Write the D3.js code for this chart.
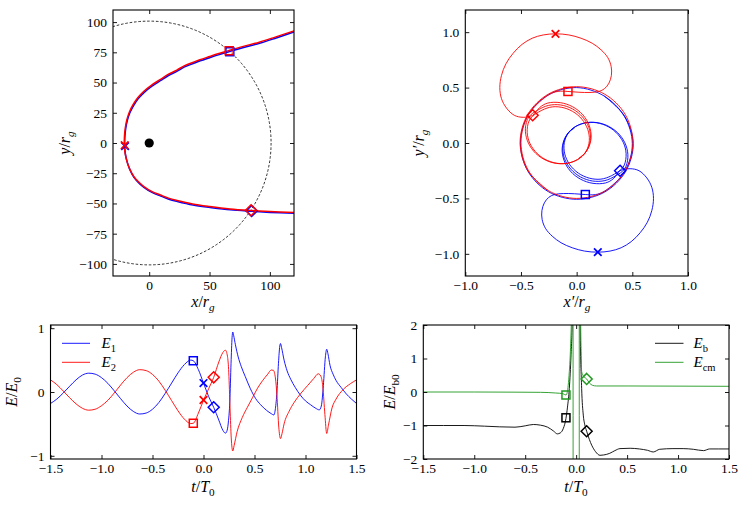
<!DOCTYPE html>
<html><head><meta charset="utf-8">
<script src="https://cdn.jsdelivr.net/npm/d3@7"></script>
<style>body{margin:0;background:#fff} svg text{font-family:"Liberation Serif","Times New Roman",serif;fill:#000}</style>
</head><body><svg id="c" width="748" height="505"></svg>
<script>
// ---------- DATA ----------
// Top-left: trajectories in x/r_g, y/r_g
const tlRed = [[120,92.7],[105,87.8],[91.2,83.4],[78,79.9],[66.1,76.5],[57,73.8],[50.2,71.6],[42,68.9],[36.6,66.8],[29,63.8],[22.9,60.3],[15,56.3],[9.3,52.6],[2,47.9],[-4.4,42.8],[-9.5,37.5],[-13.5,31.5],[-16.4,25.7],[-18.5,19.3],[-19.8,12.5],[-20.5,5.5],[-20.6,-1.5],[-20.2,-7],[-18.9,-13.5],[-16.6,-20.5],[-12.8,-27.7],[-8.5,-32.5],[-4.4,-36],[2,-40],[9.3,-43],[16,-45.6],[23,-47.5],[36,-50.4],[50.2,-52.5],[67,-54.5],[84.4,-55.8],[100,-56.7],[120,-57.5]];
const tlBlue = [[120,91.8],[105.3,86.9],[91.5,82.5],[78.3,79],[66.4,75.6],[57.3,72.9],[50.5,70.7],[42.3,68],[36.9,65.9],[29.3,62.9],[23.2,59.4],[15.3,55.4],[9.6,51.7],[2.3,47],[-4.1,41.9],[-9.2,36.6],[-13.2,30.6],[-16.1,24.8],[-18.2,18.4],[-19.5,11.6],[-20.2,4.6],[-20.3,-2.4],[-19.9,-7.9],[-18.6,-14.4],[-16.3,-21.4],[-12.5,-28.6],[-8.2,-33.4],[-4.1,-36.9],[2.3,-40.9],[9.6,-43.9],[16.3,-46.5],[23.3,-48.4],[36.3,-51.3],[50.5,-53.3],[67.3,-55.3],[84.7,-56.5],[100.3,-57.4],[120,-58.2]];
const tlCircleRadius = 101;
const tlMarkRed = {x:[-20.3,-1.8], sq:[66.3,76.3], di:[84.4,-55.6]};
const tlMarkBlue = {x:[-20,-2.6], sq:[66.8,75.5], di:[84.9,-56.2]};

// Top-right: trajectories in x'/r_g, y'/r_g
const trRed = [[-0.2525,-0.432],[-0.439,-0.2485],[-0.508,0.005],[-0.439,0.2585],[-0.2525,0.442],[0,0.508],[0.2515,0.4406],[0.4365,0.257],[0.505,0.005],[0.438,-0.248],[0.2535,-0.434],[0,-0.5],[-0.252,-0.4315],[-0.4347,-0.246],[-0.5,0.005],[-0.433,0.255],[-0.249,0.436],[-0.168,0.4656],
[-0.078,0.465],[0.02,0.458],[0.12,0.456],[0.2,0.465],[0.25,0.49],[0.29,0.54],[0.312,0.61],[0.31,0.69],[0.28,0.77],[0.22,0.84],[0.14,0.9],[0.04,0.945],[-0.07,0.975],[-0.19,0.985],[-0.3,0.975],[-0.4,0.945],[-0.49,0.89],[-0.57,0.81],[-0.635,0.715],[-0.675,0.61],[-0.69,0.5],[-0.675,0.4],[-0.63,0.315],[-0.56,0.25],[-0.48,0.232],[-0.395,0.25],
[-0.33,0.322],[-0.261,0.36],[-0.147,0.364],[-0.036,0.327],[0.056,0.254],[0.114,0.155],[0.13,0.047],[0.1,-0.055],[0.031,-0.134],[-0.069,-0.18],[-0.183,-0.184],[-0.294,-0.147],[-0.386,-0.074],[-0.444,0.025],[-0.46,0.133],[-0.43,0.235],
[-0.35,0.296],[-0.254,0.339],[-0.144,0.343],[-0.036,0.307],[0.052,0.236],[0.109,0.141],[0.124,0.038],[0.096,-0.06],[0.03,-0.136],[-0.066,-0.179],[-0.176,-0.183],[-0.284,-0.147],[-0.372,-0.076],[-0.429,0.019],[-0.444,0.123],[-0.416,0.22],
[-0.313,0.295],[-0.218,0.326],[-0.113,0.317],[-0.014,0.271],[0.063,0.194],[0.107,0.098],[0.111,-0.002],[0.074,-0.091],[0.02,-0.135]];
const trBlue = [[0.2475,0.424],[0.43,0.2435],[0.508,-0.005],[0.439,-0.2585],[0.2525,-0.442],[0,-0.508],[-0.2515,-0.4406],[-0.4365,-0.257],[-0.505,-0.005],[-0.438,0.248],[-0.2535,0.434],[0,0.5],[0.247,0.424],[0.427,0.243],[0.5,-0.005],[0.433,-0.255],[0.249,-0.436],[0.168,-0.4656],
[0.078,-0.465],[-0.02,-0.458],[-0.12,-0.456],[-0.2,-0.465],[-0.25,-0.49],[-0.29,-0.54],[-0.312,-0.61],[-0.31,-0.69],[-0.28,-0.77],[-0.22,-0.84],[-0.14,-0.9],[-0.04,-0.945],[0.07,-0.975],[0.19,-0.985],[0.3,-0.975],[0.4,-0.945],[0.49,-0.89],[0.57,-0.81],[0.635,-0.715],[0.675,-0.61],[0.69,-0.5],[0.675,-0.4],[0.63,-0.315],[0.56,-0.25],[0.48,-0.232],[0.39,-0.25],
[0.33,-0.322],[0.261,-0.36],[0.147,-0.364],[0.036,-0.327],[-0.056,-0.254],[-0.114,-0.155],[-0.13,-0.047],[-0.1,0.055],[-0.031,0.134],[0.069,0.18],[0.183,0.184],[0.294,0.147],[0.386,0.074],[0.444,-0.025],[0.46,-0.133],[0.43,-0.235],
[0.35,-0.296],[0.254,-0.339],[0.144,-0.343],[0.036,-0.307],[-0.052,-0.236],[-0.109,-0.141],[-0.124,-0.038],[-0.096,0.06],[-0.03,0.136],[0.066,0.179],[0.176,0.183],[0.284,0.147],[0.372,0.076],[0.429,-0.019],[0.444,-0.123],[0.416,-0.22],
[0.313,-0.295],[0.218,-0.326],[0.113,-0.317],[0.014,-0.271],[-0.063,-0.194],[-0.107,-0.098],[-0.111,0.002],[-0.074,0.091],[-0.02,0.135]];
const trMarkRed = {x:[-0.19,0.985], sq:[-0.078,0.465], di:[-0.395,0.25]};
const trMarkBlue = {x:[0.19,-0.985], sq:[0.078,-0.465], di:[0.39,-0.25]};

// Bottom-left: E1, E2 vs t/T0
const e1 = [[-1.5,-0.18],[-1.4375,-0.11],[-1.375,-0.015],[-1.3125,0.09],[-1.25,0.19],[-1.1875,0.265],[-1.125,0.295],[-1.0625,0.28],[-1.0,0.225],[-0.9375,0.135],[-0.875,0.018],[-0.8125,-0.105],[-0.75,-0.22],[-0.6875,-0.305],[-0.625,-0.345],[-0.5625,-0.33],[-0.5,-0.27],[-0.4375,-0.165],[-0.375,-0.02],[-0.3125,0.14],[-0.25,0.3],[-0.1875,0.43],[-0.125,0.5],[-0.1,0.49],[-0.05,0.35],[0.0,0.14],[0.05,-0.07],[0.1,-0.24],[0.15,-0.44],[0.19,-0.6],[0.215,-0.645],[0.232,-0.6],[0.245,-0.45],[0.258,-0.15],[0.27,0.45],[0.28,0.85],[0.287,0.94],[0.295,0.89],[0.313,0.74],[0.34,0.55],[0.37,0.4],[0.41,0.24],[0.46,0.05],[0.51,-0.1],[0.56,-0.2],[0.62,-0.29],[0.665,-0.34],[0.69,-0.36],[0.705,-0.26],[0.72,0.0],[0.735,0.45],[0.748,0.72],[0.755,0.76],[0.765,0.7],[0.79,0.5],[0.82,0.33],[0.855,0.2],[0.9,0.07],[0.95,-0.05],[1.0,-0.14],[1.05,-0.2],[1.1,-0.255],[1.135,-0.28],[1.155,-0.22],[1.175,0.1],[1.195,0.55],[1.208,0.67],[1.22,0.6],[1.24,0.42],[1.27,0.28],[1.3,0.18],[1.35,0.07],[1.4,-0.03],[1.45,-0.11],[1.5,-0.18]];
const e2 = [[-1.5,0.19],[-1.4375,0.115],[-1.375,0.015],[-1.3125,-0.09],[-1.25,-0.185],[-1.1875,-0.255],[-1.125,-0.285],[-1.0625,-0.27],[-1.0,-0.215],[-0.9375,-0.13],[-0.875,-0.015],[-0.8125,0.11],[-0.75,0.225],[-0.6875,0.31],[-0.625,0.35],[-0.5625,0.335],[-0.5,0.275],[-0.4375,0.17],[-0.375,0.025],[-0.3125,-0.135],[-0.25,-0.295],[-0.1875,-0.425],[-0.125,-0.495],[-0.1,-0.49],[-0.05,-0.33],[0.0,-0.13],[0.05,0.05],[0.1,0.23],[0.15,0.47],[0.19,0.62],[0.215,0.655],[0.235,0.56],[0.248,0.3],[0.26,-0.25],[0.272,-0.72],[0.287,-0.925],[0.3,-0.84],[0.33,-0.62],[0.38,-0.4],[0.43,-0.24],[0.48,-0.09],[0.53,0.06],[0.58,0.18],[0.63,0.28],[0.665,0.345],[0.685,0.34],[0.705,0.22],[0.72,-0.05],[0.738,-0.55],[0.755,-0.73],[0.77,-0.65],[0.79,-0.5],[0.84,-0.3],[0.89,-0.16],[0.95,-0.03],[1.02,0.1],[1.08,0.21],[1.125,0.285],[1.15,0.25],[1.17,0.08],[1.19,-0.35],[1.208,-0.65],[1.225,-0.52],[1.26,-0.25],[1.3,-0.11],[1.37,0.04],[1.44,0.13],[1.5,0.19]];
const blMarkE1 = {sq:[-0.1,0.49], x:[0.0,0.14], di:[0.1,-0.24]};
const blMarkE2 = {sq:[-0.1,-0.49], x:[0.0,-0.125], di:[0.1,0.23]};

// Bottom-right: Eb, Ecm vs t/T0
const eb = [[-1.5,-1.0],[-1.3,-1.0],[-1.1,-1.0],[-0.9,-1.02],[-0.75,-1.04],[-0.6,-1.05],[-0.5,-1.01],[-0.42,-0.97],[-0.35,-0.99],[-0.28,-1.05],[-0.22,-1.17],[-0.185,-1.25],[-0.155,-1.22],[-0.125,-1.08],[-0.1,-0.79],[-0.085,-0.45],[-0.067,0.11],[-0.05,1.11],[-0.038,2.2],[-0.03,6],[0.03,6],[0.038,2.2],[0.054,0.11],[0.07,-0.69],[0.085,-0.98],[0.103,-1.17],[0.13,-1.42],[0.153,-1.59],[0.19,-1.78],[0.234,-1.89],[0.27,-1.88],[0.33,-1.83],[0.38,-1.75],[0.43,-1.69],[0.53,-1.68],[0.62,-1.7],[0.7,-1.74],[0.757,-1.79],[0.82,-1.71],[0.95,-1.69],[1.05,-1.69],[1.15,-1.71],[1.25,-1.75],[1.31,-1.7],[1.4,-1.7],[1.5,-1.7]];
const ecm = [[-1.5,0.0],[-1.0,0.0],[-0.6,-0.005],[-0.35,-0.01],[-0.2,-0.03],[-0.13,-0.05],[-0.1,-0.09],[-0.088,-0.02],[-0.078,0.2],[-0.067,0.61],[-0.058,1.1],[-0.052,1.6],[-0.046,2.3],[-0.032,30],[-0.028,-30],[0.029,-30],[0.032,30],[0.044,2.3],[0.049,1.2],[0.054,0.61],[0.07,0.48],[0.103,0.39],[0.13,0.27],[0.16,0.2],[0.2,0.18],[0.5,0.18],[1.0,0.175],[1.5,0.17]];
const brMarkEb = {sq:[-0.1,-0.77], di:[0.103,-1.17]};
const brMarkEcm = {sq:[-0.1,-0.09], di:[0.103,0.39]};

// tick values
const tlXTicks = [0,50,100], tlYTicks = [-100,-75,-50,-25,0,25,50,75,100];
const trTicks = [-1,-0.5,0,0.5,1];
const tTicks = [-1.5,-1,-0.5,0,0.5,1,1.5];
const blYTicks = [-1,0,1], brYTicks = [-2,-1,0,1,2];

// ---------- DRAW ----------
const FONT = '"Liberation Serif","Times New Roman",serif';
const RED = "#ff0000", BLUE = "#0000ff", GREEN = "#1f991f", BLACK = "#000";
const TICKFS = 13.5, TITLEFS = 16, LEGFS = 15;
const svg = d3.select("#c");
svg.append("rect").attr("width",748).attr("height",505).attr("fill","#fff");
const minus = f => d => f(d).replace("-","\u2212");

function panel(id, L, R, T, B, xd, yd) {
  const x = d3.scaleLinear().domain(xd).range([L,R]);
  const y = d3.scaleLinear().domain(yd).range([B,T]);
  svg.append("clipPath").attr("id",id).append("rect").attr("x",L).attr("y",T).attr("width",R-L).attr("height",B-T);
  const g = svg.append("g");
  const plot = g.append("g").attr("clip-path",`url(#${id})`);
  return {x,y,g,plot,L,R,T,B};
}
function axes(p, xt, yt, xf, yf) {
  const ts = 4;
  const st = a => a.attr("font-family",FONT).attr("font-size",TICKFS)
     .call(s=>s.select(".domain").remove())
     .call(s=>s.selectAll("line").attr("stroke","#000").attr("stroke-width",0.9));
  p.g.append("g").attr("transform",`translate(0,${p.B})`).call(d3.axisBottom(p.x).tickValues(xt).tickSize(-ts).tickPadding(4).tickFormat(xf)).call(st);
  p.g.append("g").attr("transform",`translate(0,${p.T})`).call(d3.axisTop(p.x).tickValues(xt).tickSize(-ts).tickFormat(()=>"")).call(st);
  p.g.append("g").attr("transform",`translate(${p.L},0)`).call(d3.axisLeft(p.y).tickValues(yt).tickSize(-ts).tickPadding(6).tickFormat(yf)).call(st);
  p.g.append("g").attr("transform",`translate(${p.R},0)`).call(d3.axisRight(p.y).tickValues(yt).tickSize(-ts).tickFormat(()=>"")).call(st);
  p.g.append("rect").attr("x",p.L).attr("y",p.T).attr("width",p.R-p.L).attr("height",p.B-p.T)
    .attr("fill","none").attr("stroke","#000").attr("stroke-width",1.1);
}
function line(p, data, color, w, curve) {
  const gen = d3.line().x(d=>p.x(d[0])).y(d=>p.y(d[1])).curve(curve);
  p.plot.append("path").attr("d",gen(data)).attr("fill","none").attr("stroke",color).attr("stroke-width",w).attr("stroke-linejoin","round");
}
function marker(p, type, pt, color) {
  const cx = p.x(pt[0]), cy = p.y(pt[1]);
  const m = p.g.append("g").attr("transform",`translate(${cx},${cy})`).attr("fill","none").attr("stroke",color).attr("stroke-width",1.5);
  if (type==="sq") m.append("rect").attr("x",-4).attr("y",-4).attr("width",8).attr("height",8);
  else if (type==="di") m.append("path").attr("d","M0,-5.5L5.5,0L0,5.5L-5.5,0Z");
  else { m.append("path").attr("d","M-3.8,-3.8L3.8,3.8M-3.8,3.8L3.8,-3.8").attr("stroke-width",1.7); }
}
function label(x, y, rot, parts, size, anchor) {
  const t = svg.append("text").attr("font-size",size).attr("text-anchor",anchor||"middle");
  if (rot) t.attr("transform",`translate(${x},${y}) rotate(-90)`); else t.attr("x",x).attr("y",y);
  let sub = false; const sh = size*0.24;
  parts.forEach(pp => {
    const s = t.append("tspan").text(pp[0]);
    if (pp[1].includes("i")) s.attr("font-style","italic");
    const isSub = pp[1].includes("s");
    if (isSub) s.attr("font-size",size*0.7);
    if (isSub && !sub) s.attr("dy",sh);
    if (!isSub && sub) s.attr("dy",-sh);
    sub = isSub;
  });
}

// ---- Top-left ----
const tl = panel("cTL",113,294,10,276,[-30,120],[-110,110]);
tl.plot.append("circle").attr("cx",tl.x(0)).attr("cy",tl.y(0)).attr("r",tl.x(tlCircleRadius)-tl.x(0))
  .attr("fill","none").attr("stroke","#000").attr("stroke-width",0.8).attr("stroke-dasharray","2.6,1.8");
tl.plot.append("circle").attr("cx",tl.x(0)).attr("cy",tl.y(0)).attr("r",4.6).attr("fill","#000");
line(tl, tlBlue, BLUE, 1.5, d3.curveCatmullRom);
line(tl, tlRed, RED, 1.5, d3.curveCatmullRom);
axes(tl, tlXTicks, tlYTicks, d3.format("d"), minus(d3.format("d")));
["sq","di","x"].forEach(k=>marker(tl,k,tlMarkBlue[k],BLUE));
["sq","di","x"].forEach(k=>marker(tl,k,tlMarkRed[k],RED));
label(203,307,false,[["x","i"],["/",""],["r","i"],["g","is"]],TITLEFS);
label(70,143,true,[["y","i"],["/",""],["r","i"],["g","is"]],TITLEFS);

// ---- Top-right ----
const tr = panel("cTR",465.3,688,10,276,[-1,1],[-1.2,1.2]);
line(tr, trBlue, BLUE, 0.9, d3.curveCatmullRom);
line(tr, trRed, RED, 0.9, d3.curveCatmullRom);
axes(tr, trTicks, trTicks, minus(d3.format(".1f")), minus(d3.format(".1f")));
["sq","di","x"].forEach(k=>marker(tr,k,trMarkBlue[k],BLUE));
["sq","di","x"].forEach(k=>marker(tr,k,trMarkRed[k],RED));
label(577,307,false,[["x\u2032","i"],["/",""],["r","i"],["g","is"]],TITLEFS);
label(424,143,true,[["y\u2032","i"],["/",""],["r","i"],["g","is"]],TITLEFS);

// ---- Bottom-left ----
const bl = panel("cBL",50.5,356.5,325,459,[-1.5,1.5],[-1.05,1.05]);
line(bl, e1, BLUE, 0.9, d3.curveMonotoneX);
line(bl, e2, RED, 0.9, d3.curveMonotoneX);
axes(bl, tTicks, blYTicks, minus(d3.format(".1f")), minus(d3.format("d")));
["sq","x","di"].forEach(k=>marker(bl,k,blMarkE1[k],BLUE));
["sq","x","di"].forEach(k=>marker(bl,k,blMarkE2[k],RED));
label(203,492,false,[["t","i"],["/",""],["T","i"],["0","s"]],TITLEFS);
label(17,392,true,[["E","i"],["/",""],["E","i"],["0","s"]],TITLEFS);
// legend
svg.append("line").attr("x1",62).attr("x2",90).attr("y1",343.3).attr("y2",343.3).attr("stroke",BLUE).attr("stroke-width",0.9);
svg.append("line").attr("x1",62).attr("x2",90).attr("y1",362.3).attr("y2",362.3).attr("stroke",RED).attr("stroke-width",0.9);
label(101.5,348,false,[["E","i"],["1","s"]],LEGFS,"start");
label(101.5,367,false,[["E","i"],["2","s"]],LEGFS,"start");

// ---- Bottom-right ----
const br = panel("cBR",423.3,729,325,459,[-1.5,1.5],[-2,2]);
line(br, eb, BLACK, 0.9, d3.curveMonotoneX);
line(br, ecm, GREEN, 0.9, d3.curveMonotoneX);
axes(br, tTicks, brYTicks, minus(d3.format(".1f")), minus(d3.format("d")));
["sq","di"].forEach(k=>marker(br,k,brMarkEcm[k],GREEN));
["sq","di"].forEach(k=>marker(br,k,brMarkEb[k],BLACK));
label(576,492,false,[["t","i"],["/",""],["T","i"],["0","s"]],TITLEFS);
label(395,392,true,[["E","i"],["/",""],["E","i"],["b0","s"]],TITLEFS);
svg.append("line").attr("x1",655).attr("x2",683.5).attr("y1",343.3).attr("y2",343.3).attr("stroke",BLACK).attr("stroke-width",0.9);
svg.append("line").attr("x1",655).attr("x2",683.5).attr("y1",362.3).attr("y2",362.3).attr("stroke",GREEN).attr("stroke-width",0.9);
label(693.5,348,false,[["E","i"],["b","s"]],LEGFS,"start");
label(693.5,367,false,[["E","i"],["cm","s"]],LEGFS,"start");
</script></body></html>
